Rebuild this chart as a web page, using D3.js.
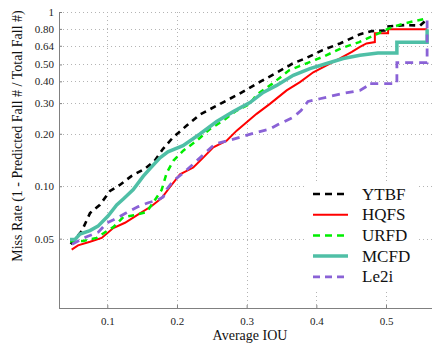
<!DOCTYPE html>
<html>
<head>
<meta charset="utf-8">
<script src="https://cdn.jsdelivr.net/npm/d3@7"></script>
<style>
  body { margin: 0; background: #fff; }
  svg { display: block; font-family: "Liberation Serif", "DejaVu Serif", serif; }
</style>
</head>
<body>
<div id="chart"></div>
<script>
// series: [average IOU, miss rate]
const ytbf = [[0.0475,0.0465],[0.0633,0.0552],[0.0752,0.0701],[0.0895,0.0783],[0.104,0.094],[0.118,0.1017],
  [0.135,0.1147],[0.154,0.1259],[0.168,0.140],[0.180,0.164],[0.194,0.190],[0.214,0.223],[0.233,0.258],
  [0.262,0.297],[0.290,0.340],[0.319,0.397],[0.343,0.448],[0.366,0.506],[0.385,0.543],[0.409,0.604],
  [0.434,0.660],[0.463,0.746],[0.480,0.777],[0.498,0.782],[0.500,0.825],[0.527,0.841],[0.549,0.836],
  [0.556,0.887],[0.559,0.917]];
const hqfs = [[0.0489,0.0433],[0.058,0.0458],[0.0752,0.048],[0.092,0.0505],[0.1086,0.0575],[0.1254,0.0617],
  [0.1445,0.069],[0.1637,0.077],[0.178,0.0856],[0.190,0.099],[0.2043,0.117],[0.2234,0.128],[0.2377,0.146],
  [0.2521,0.167],[0.2713,0.1825],[0.2857,0.2085],[0.300,0.2328],[0.3143,0.2603],[0.3334,0.297],[0.3574,0.355],
  [0.3765,0.396],[0.3956,0.451],[0.4148,0.4945],[0.4339,0.541],[0.451,0.590],[0.4626,0.631],[0.472,0.660],
  [0.484,0.672],[0.484,0.754],[0.503,0.754],[0.503,0.795],[0.559,0.795]];
const urfd = [[0.0465,0.0483],[0.0656,0.0485],[0.0848,0.0505],[0.0991,0.0552],[0.1086,0.0582],[0.123,0.0665],
  [0.1397,0.0683],[0.1565,0.0711],[0.1684,0.0834],[0.178,0.0952],[0.1852,0.119],[0.1947,0.140],[0.209,0.160],
  [0.2283,0.1825],[0.2473,0.213],[0.2664,0.238],[0.2857,0.272],[0.3047,0.297],[0.3143,0.335],[0.337,0.388],
  [0.361,0.4626],[0.385,0.506],[0.409,0.552],[0.4377,0.624],[0.4615,0.671],[0.494,0.770],[0.508,0.816],
  [0.523,0.853],[0.544,0.893],[0.559,0.92]];
const mcfd = [[0.0465,0.0494],[0.0537,0.0495],[0.0608,0.0531],[0.0752,0.0556],[0.0867,0.059],[0.101,0.0674],
  [0.1135,0.078],[0.123,0.0845],[0.1373,0.0956],[0.1517,0.1142],[0.161,0.1259],[0.1756,0.1457],[0.187,0.1577],
  [0.2086,0.1708],[0.233,0.1995],[0.257,0.235],[0.2808,0.268],[0.3047,0.302],[0.3238,0.3455],[0.343,0.379],
  [0.3669,0.433],[0.3908,0.473],[0.4148,0.506],[0.4386,0.541],[0.4626,0.565],[0.4884,0.582],[0.5156,0.582],
  [0.5156,0.671],[0.559,0.671],[0.559,0.795]];
const le2i = [[0.0494,0.0465],[0.0704,0.0513],[0.0871,0.0545],[0.0991,0.0614],[0.1082,0.0639],[0.1268,0.0701],
  [0.1445,0.0764],[0.1588,0.0804],[0.1727,0.0834],[0.1803,0.0868],[0.1857,0.0965],[0.1947,0.1073],[0.209,0.119],
  [0.2234,0.134],[0.2377,0.1516],[0.2545,0.1747],[0.2732,0.1825],[0.2933,0.1925],[0.3148,0.204],[0.3334,0.213],
  [0.345,0.2258],[0.3669,0.249],[0.378,0.272],[0.388,0.3065],[0.405,0.3177],[0.4386,0.3408],[0.4626,0.355],
  [0.472,0.374],[0.473,0.388],[0.5156,0.388],[0.5156,0.5125],[0.559,0.5125],[0.559,0.90]];

const seriesNames = ["YTBF", "HQFS", "URFD", "MCFD", "Le2i"];
const seriesData = [ytbf, hqfs, urfd, mcfd, le2i];
const xTicks = [0.1, 0.2, 0.3, 0.4, 0.5];
const yTicks = [0.05, 0.1, 0.2, 0.3, 0.4, 0.5, 0.64, 0.8, 1];
const yTickLabels = ["0.05", "0.10", "0.20", "0.30", "0.40", "0.50", "0.64", "0.80", "1"];

// line styles per series
const styles = [
  {color: "#000000", width: 2.6, dash: "6,5"},
  {color: "#ff0000", width: 2, dash: null},
  {color: "#00ee00", width: 2.5, dash: "6,5"},
  {color: "#4fbfa6", width: 3.5, dash: null},
  {color: "#8a62d6", width: 2.8, dash: "8,6"}
];

const width = 432, height = 343;
const svg = d3.select("#chart").append("svg")
    .attr("width", width)
    .attr("height", height);

const x = d3.scaleLinear().domain([0.0307, 0.566]).range([59, 432]);
const y = d3.scaleLog().domain([0.02, 1]).range([308, 12]);

// dotted grid
const grid = svg.append("g").attr("class", "grid")
    .style("stroke", "#b4b4b4")
    .style("stroke-width", 1)
    .style("stroke-dasharray", "1,3");
grid.selectAll("line.h").data(yTicks).join("line")
    .attr("class", "h")
    .attr("x1", 59).attr("x2", 432)
    .attr("y1", d => Math.round(y(d)) + 0.5).attr("y2", d => Math.round(y(d)) + 0.5);
grid.selectAll("line.v").data(xTicks).join("line")
    .attr("class", "v")
    .attr("x1", d => Math.round(x(d)) + 0.5).attr("x2", d => Math.round(x(d)) + 0.5)
    .attr("y1", 12).attr("y2", 308);

// axes (ticks point inward)
const xAxis = svg.append("g")
    .attr("transform", "translate(0,308)")
    .call(d3.axisBottom(x).tickValues(xTicks).tickFormat(d3.format(".1f")).tickSize(-3).tickPadding(9));
const yAxis = svg.append("g")
    .attr("transform", "translate(59,0)")
    .call(d3.axisLeft(y).tickValues(yTicks).tickFormat((d, i) => yTickLabels[i]).tickSize(-3).tickPadding(5));

[xAxis, yAxis].forEach(a => {
  a.attr("font-family", "Liberation Serif").attr("font-size", 11);
  a.select(".domain").attr("stroke", "#808080");
  a.selectAll(".tick line").attr("stroke", "#808080");
  a.selectAll(".tick text").attr("fill", "#222");
});
xAxis.select(".domain").attr("d", "M59,0.5H432");
yAxis.select(".domain").attr("d", "M0.5,12V308");

// curves
const line = d3.line()
    .x(d => x(d[0]))
    .y(d => y(d[1]));

svg.append("g").selectAll("path")
    .data(seriesData)
    .join("path")
      .attr("d", line)
      .attr("fill", "none")
      .attr("stroke", (d, i) => styles[i].color)
      .attr("stroke-width", (d, i) => styles[i].width)
      .attr("stroke-dasharray", (d, i) => styles[i].dash)
      .attr("stroke-linejoin", "miter");

// legend
const legend = svg.append("g");
legend.append("rect")
    .attr("x", 306).attr("y", 183)
    .attr("width", 113).attr("height", 109)
    .attr("fill", "#fff");
const rows = legend.selectAll("g.row")
    .data(seriesNames)
    .join("g")
      .attr("class", "row")
      .attr("transform", (d, i) => `translate(0,${194 + i * 20.7})`);
rows.append("line")
    .attr("x1", 313).attr("x2", 348)
    .attr("stroke", (d, i) => styles[i].color)
    .attr("stroke-width", (d, i) => styles[i].width)
    .attr("stroke-dasharray", (d, i) => styles[i].dash ? "7,5" : null);
rows.append("text")
    .attr("x", 362)
    .attr("dy", "0.33em")
    .style("font-size", "17px")
    .attr("fill", "#111")
    .text(d => d);

// axis titles
svg.append("text")
    .attr("x", 250).attr("y", 339.5)
    .attr("text-anchor", "middle")
    .style("font-size", "14px")
    .attr("fill", "#111")
    .text("Average IOU");

svg.append("text")
    .attr("transform", "translate(21.5,136) rotate(-90)")
    .attr("text-anchor", "middle")
    .style("font-size", "14px")
    .attr("fill", "#111")
    .text("Miss Rate (1 - Predicted Fall # / Total Fall #)");
</script>
</body>
</html>
